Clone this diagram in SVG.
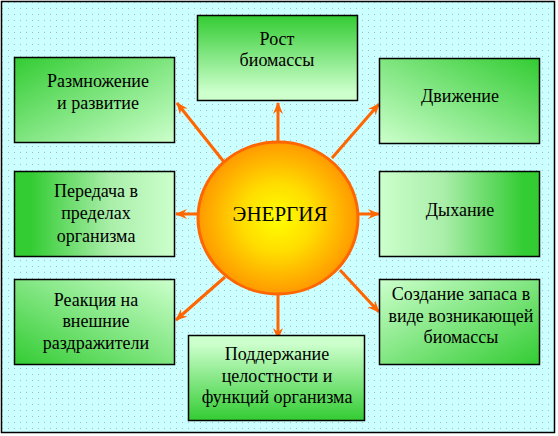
<svg xmlns="http://www.w3.org/2000/svg" width="558" height="436" viewBox="0 0 558 436">
<defs>
<pattern id="dots" width="6" height="6" patternUnits="userSpaceOnUse">
<rect width="6" height="6" fill="#ccffff"/>
<rect x="2" y="2" width="1" height="1" fill="#9fbfbf"/>
</pattern>
<linearGradient id="gTL" x1="0" y1="0" x2="1" y2="1"><stop offset="0" stop-color="#33cc33"/><stop offset="1" stop-color="#ccffcc"/></linearGradient>
<linearGradient id="gT" x1="0" y1="0" x2="0" y2="1"><stop offset="0" stop-color="#33cc33"/><stop offset="0.9" stop-color="#ccffcc"/></linearGradient>
<linearGradient id="gTR" x1="1" y1="0" x2="0" y2="1"><stop offset="0" stop-color="#33cc33"/><stop offset="1" stop-color="#ccffcc"/></linearGradient>
<linearGradient id="gL" x1="0" y1="0" x2="1" y2="0"><stop offset="0.1" stop-color="#33cc33"/><stop offset="0.6" stop-color="#aaeeaa"/><stop offset="1" stop-color="#ccffcc"/></linearGradient>
<linearGradient id="gR" x1="1" y1="0" x2="0" y2="0"><stop offset="0.1" stop-color="#33cc33"/><stop offset="0.6" stop-color="#aaeeaa"/><stop offset="1" stop-color="#ccffcc"/></linearGradient>
<linearGradient id="gBL" x1="0" y1="1" x2="1" y2="0"><stop offset="0" stop-color="#33cc33"/><stop offset="1" stop-color="#ccffcc"/></linearGradient>
<linearGradient id="gB" x1="0" y1="1" x2="0" y2="0"><stop offset="0" stop-color="#33cc33"/><stop offset="0.9" stop-color="#ccffcc"/></linearGradient>
<linearGradient id="gBR" x1="1" y1="1" x2="0" y2="0"><stop offset="0" stop-color="#33cc33"/><stop offset="1" stop-color="#ccffcc"/></linearGradient>
<radialGradient id="sun" cx="0.5" cy="0.5" r="0.5"><stop offset="0" stop-color="#ffff00"/><stop offset="0.45" stop-color="#ffdd00"/><stop offset="1" stop-color="#ff9900"/></radialGradient>
<marker id="ah" viewBox="0 0 12 10" refX="11" refY="5" markerWidth="12" markerHeight="10" markerUnits="userSpaceOnUse" orient="auto">
<path d="M0,0 L12,5 L0,10 L4,5 Z" fill="#ff6600"/>
</marker>
</defs>
<style>
.box{stroke:#000;stroke-width:1.5}
text{font-family:'Times New Roman','Liberation Serif',Tinos,'DejaVu Serif',serif;font-size:18px;fill:#000;text-anchor:middle}
text.big{font-size:21px}
.arr{stroke:#ff6600;stroke-width:3;fill:none;marker-end:url(#ah)}
</style>
<rect width="558" height="436" fill="#fff"/>
<rect x="1.5" y="1.5" width="553" height="431" fill="url(#dots)" stroke="#000" stroke-width="1.5"/>
<g id="connectors">
<line class="arr" x1="278" y1="145" x2="278" y2="103"/>
<line class="arr" x1="224" y1="162" x2="177" y2="103"/>
<line class="arr" x1="332" y1="158" x2="379" y2="104"/>
<line class="arr" x1="198" y1="214" x2="176" y2="214"/>
<line class="arr" x1="358" y1="214" x2="379" y2="214"/>
<line class="arr" x1="225" y1="277" x2="176" y2="320"/>
<line class="arr" x1="278" y1="292" x2="278" y2="339"/>
<line class="arr" x1="340" y1="270" x2="379" y2="312"/>
</g>
<g id="sun-node">
<ellipse cx="278" cy="218" rx="80" ry="76" fill="url(#sun)" stroke="#ff6600" stroke-width="3"/>
<text class="big" x="280" y="221">ЭНЕРГИЯ</text>
</g>
<g id="n-razmnozhenie">
<rect class="box" x="14.5" y="57.5" width="160" height="85" fill="url(#gTL)"/>
<text x="98" y="87">Размножение</text>
<text x="98" y="109">и развитие</text>
</g>
<g id="n-rost">
<rect class="box" x="197.5" y="15.5" width="160" height="85" fill="url(#gT)"/>
<text x="277" y="45">Рост</text>
<text x="277" y="66">биомассы</text>
</g>
<g id="n-dvizhenie">
<rect class="box" x="379.5" y="58.5" width="160" height="85" fill="url(#gTR)"/>
<text x="460" y="102">Движение</text>
</g>
<g id="n-peredacha">
<rect class="box" x="14.5" y="171.5" width="160" height="85" fill="url(#gL)"/>
<text x="96" y="197">Передача в</text>
<text x="96" y="219">пределах</text>
<text x="96" y="242">организма</text>
</g>
<g id="n-dyhanie">
<rect class="box" x="379.5" y="171.5" width="160" height="85" fill="url(#gR)"/>
<text x="460" y="216">Дыхание</text>
</g>
<g id="n-reakciya">
<rect class="box" x="14.5" y="279.5" width="160" height="85" fill="url(#gBL)"/>
<text x="96" y="306">Реакция на</text>
<text x="96" y="327">внешние</text>
<text x="96" y="349">раздражители</text>
</g>
<g id="n-sozdanie">
<rect class="box" x="379.5" y="279.5" width="160" height="85" fill="url(#gBR)"/>
<text x="461" y="300">Создание запаса в</text>
<text x="461" y="322">виде возникающей</text>
<text x="461" y="343">биомассы</text>
</g>
<g id="n-podderzhanie">
<rect class="box" x="188.5" y="335.5" width="176" height="85" fill="url(#gB)"/>
<text x="277" y="360">Поддержание</text>
<text x="277" y="382">целостности и</text>
<text x="277" y="403">функций организма</text>
</g>
</svg>
